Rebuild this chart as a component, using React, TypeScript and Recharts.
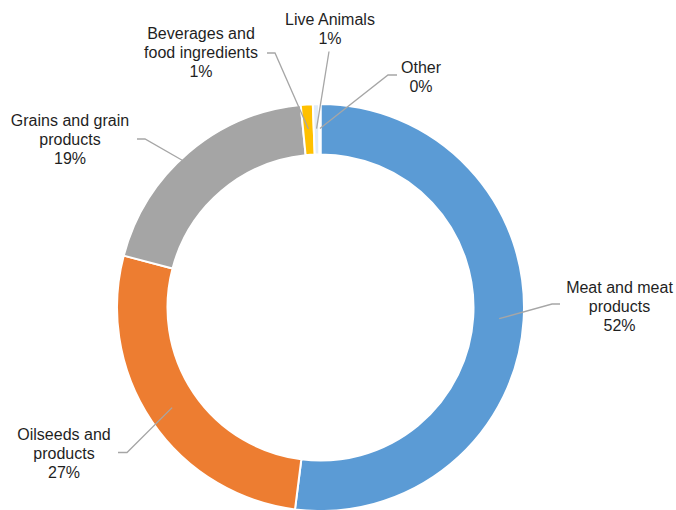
import React from "react";
import { PieChart, Pie, Cell } from "recharts";

const categories = [
  "Meat and meat products",
  "Oilseeds and products",
  "Grains and grain products",
  "Beverages and food ingredients",
  "Live Animals",
  "Other",
];
const shares = [52.0, 27.1, 19.35, 0.95, 0.5, 0.1];
const labelLines = [
  ["Meat and meat", "products"],
  ["Oilseeds and", "products"],
  ["Grains and grain", "products"],
  ["Beverages and", "food ingredients"],
  ["Live Animals"],
  ["Other"],
];

const COLORS = ["#5B9BD5", "#ED7D31", "#A5A5A5", "#FFC000", "#E2ECF7", "#9DC3E6"];

// hand placed label boxes (text center x, first baseline y) + leader elbow points
// shift = degrees the leader end is moved off the slice middle
const LAYOUT = [
  { x: 619.5, y: 292.5, r: 179, shift: 0, elbow: [[552, 304], [560, 304]] },
  { x: 64, y: 440, r: 179, shift: 0, elbow: [[127, 452.5], [118, 452.5]] },
  { x: 70, y: 126, r: 202, shift: 2.8, elbow: [[145, 139], [137, 139]] },
  { x: 201, y: 39, r: 179, shift: 0, elbow: [[275, 53], [267, 53]] },
  { x: 330, y: 25, r: 179, shift: 0, elbow: [[329, 51.5]] },
  { x: 421, y: 73, r: 179, shift: 0, elbow: [[388, 75], [397, 75]] },
];

const RAD = Math.PI / 180;

const renderLabel = (props: any) => {
  const { cx, cy, midAngle, percent, index } = props;
  const lay = LAYOUT[index];
  const a = midAngle + lay.shift;
  const ex = cx + lay.r * Math.cos(-a * RAD);
  const ey = cy + lay.r * Math.sin(-a * RAD);
  const pts = [[ex, ey], ...lay.elbow].map((p) => p.join(",")).join(" ");
  const lines = [...labelLines[index], `${Math.round(percent * 100)}%`];
  return (
    <g key={`lbl-${index}`}>
      <polyline points={pts} fill="none" stroke="#A6A6A6" strokeWidth={1.3} />
      <text
        x={lay.x}
        y={lay.y}
        textAnchor="middle"
        fill="#1f1f1f"
        fontSize={16}
        fontFamily="'Liberation Sans', Arial, sans-serif"
      >
        {lines.map((t, i) => (
          <tspan key={i} x={lay.x} dy={i === 0 ? 0 : 19}>
            {t}
          </tspan>
        ))}
      </text>
    </g>
  );
};

export default function App() {
  const data = categories.map((name, i) => ({ name, value: shares[i] }));

  return (
    <div style={{ position: "absolute", left: 0, top: 0, width: 676, height: 510, background: "#fff" }}>
      <PieChart width={676} height={510} margin={{ top: 0, right: 0, bottom: 0, left: 0 }}>
        <Pie
          data={data}
          dataKey="value"
          nameKey="name"
          cx={320.5}
          cy={307.5}
          innerRadius={153}
          outerRadius={203.5}
          startAngle={90}
          endAngle={-270}
          stroke="#ffffff"
          strokeWidth={2}
          label={renderLabel}
          labelLine={false}
          isAnimationActive={false}
        >
          {data.map((entry, index) => (
            <Cell key={`cell-${index}`} fill={COLORS[index % COLORS.length]} />
          ))}
        </Pie>
      </PieChart>
    </div>
  );
}
